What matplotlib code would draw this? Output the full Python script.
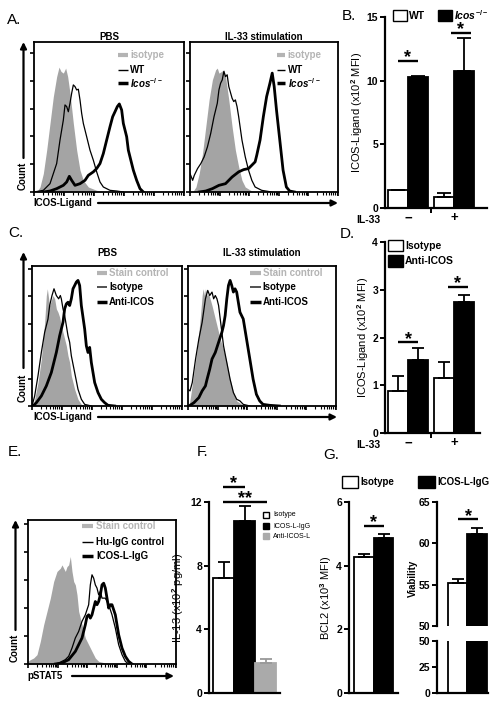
import matplotlib
matplotlib.use('Agg')
import matplotlib.pyplot as plt
from matplotlib.patches import Rectangle, FancyArrowPatch
import numpy as np

plt.rcParams['font.family'] = ['Liberation Sans', 'DejaVu Sans']
plt.rcParams['font.weight'] = 'bold'
plt.rcParams['mathtext.fontset'] = 'custom'
plt.rcParams['mathtext.rm'] = 'Liberation Sans:bold'
plt.rcParams['mathtext.it'] = 'Liberation Sans:italic:bold'
plt.rcParams['mathtext.bf'] = 'Liberation Sans:bold'

W, H = 503, 706
GRAY = '#a4a4a4'
LGRAY = '#b4b4b4'

# --- histogram data (channel, % of max count) ---
A_PBS_ISO_X = [8, 18, 28, 38, 48, 58, 68, 75, 81, 88, 95, 101, 108, 118, 128, 138, 148, 163, 188, 218]
A_PBS_ISO_Y = [0, 3.6, 13.3, 30.1, 49.4, 68.7, 83.1, 89.9, 86.8, 85.6, 89.2, 83.1, 71.1, 49.4, 30.1, 15.7, 8.4, 3.6, 1.2, 0]
A_PBS_WT_X = [0, 28, 48, 68, 78, 88, 93, 98, 103, 108, 113, 118, 123, 128, 133, 138, 143, 148, 158, 168, 178, 188, 198, 208, 228, 248, 268]
A_PBS_WT_Y = [0, 1.2, 6.0, 20.5, 37.4, 51.8, 62.7, 61.5, 57.8, 63.9, 71.1, 77.1, 75.9, 73.5, 74.0, 66.3, 56.6, 49.4, 39.8, 30.1, 22.9, 14.5, 7.2, 3.6, 1.2, 0.7, 0]
A_PBS_KO_X = [28, 48, 68, 88, 98, 106, 113, 123, 138, 153, 163, 178, 188, 198, 208, 218, 228, 236, 243, 250, 256, 263, 268, 278, 283, 288, 298, 308, 318, 328]
A_PBS_KO_Y = [0, 0.7, 2.4, 4.8, 7.2, 11.3, 8.4, 4.8, 6.0, 8.4, 12.0, 14.5, 16.9, 20.5, 27.7, 37.4, 47.0, 54.2, 57.8, 61.5, 63.4, 59.0, 49.4, 39.8, 30.1, 25.3, 15.7, 8.4, 2.4, 0]

A_IL_ISO_X = [8, 18, 28, 38, 48, 58, 68, 78, 83, 88, 96, 103, 108, 118, 128, 138, 148, 158, 168, 188, 208]
A_IL_ISO_Y = [0, 3.6, 13.3, 27.7, 47.0, 66.3, 80.7, 88.0, 89.2, 85.6, 86.8, 88.0, 83.1, 66.3, 47.0, 30.1, 18.1, 8.4, 3.6, 0.7, 0]
A_IL_WT_X = [0, 8, 13, 23, 33, 43, 53, 63, 73, 83, 88, 93, 98, 103, 108, 113, 118, 128, 133, 138, 143, 148, 158, 168, 178, 188, 198, 218, 248]
A_IL_WT_Y = [13.3, 8.4, 12.0, 16.9, 20.5, 25.3, 32.5, 42.2, 54.2, 63.9, 73.5, 78.3, 80.7, 86.8, 83.1, 84.4, 75.9, 67.5, 65.1, 66.3, 61.5, 54.2, 37.4, 25.3, 15.7, 8.4, 3.6, 1.2, 0]
A_IL_KO_X = [28, 48, 68, 88, 108, 128, 148, 163, 178, 188, 198, 203, 213, 223, 233, 243, 250, 256, 263, 273, 283, 293, 303, 318]
A_IL_KO_Y = [0, 0.7, 2.4, 4.8, 6.0, 10.8, 14.5, 16.1, 16.9, 19.3, 21.7, 26.5, 37.4, 54.2, 68.7, 78.3, 85.6, 75.9, 59.0, 37.4, 15.7, 3.6, 0.7, 0]

C_PBS_STAIN_X = [3, 8, 18, 28, 38, 43, 46, 50, 53, 58, 63, 68, 73, 78, 83, 88, 98, 103, 108, 113, 118, 128, 138, 148, 168]
C_PBS_STAIN_Y = [0, 4.9, 17.1, 34.2, 61.0, 80.5, 85.4, 78.1, 73.2, 76.9, 80.5, 78.1, 70.8, 68.3, 64.7, 58.6, 48.8, 43.9, 36.6, 31.7, 22.0, 12.2, 4.9, 1.2, 0]
C_PBS_ISO_X = [0, 8, 18, 28, 38, 48, 53, 60, 66, 73, 80, 85, 88, 93, 98, 103, 108, 113, 118, 128, 138, 148, 158, 178]
C_PBS_ISO_Y = [0, 7.3, 22.0, 39.0, 53.7, 63.4, 73.2, 80.5, 85.4, 80.5, 78.1, 80.5, 78.1, 70.8, 65.9, 58.6, 51.2, 46.4, 36.6, 24.4, 12.2, 4.9, 1.2, 0]
C_PBS_ANTI_X = [3, 13, 28, 43, 58, 73, 83, 93, 98, 103, 108, 113, 118, 123, 128, 133, 138, 143, 148, 158, 163, 168, 173, 178, 188, 198, 208, 218, 228, 248]
C_PBS_ANTI_Y = [0, 2.4, 7.3, 14.6, 24.4, 39.0, 51.2, 61.0, 70.8, 74.4, 75.6, 73.2, 78.1, 85.4, 87.8, 90.3, 91.5, 87.8, 73.2, 56.1, 43.9, 39.0, 42.7, 31.7, 17.1, 9.8, 4.9, 2.4, 0.5, 0]

C_IL_STAIN_X = [3, 8, 18, 28, 38, 43, 46, 50, 53, 58, 63, 73, 83, 88, 98, 108, 118, 128, 138, 148, 168, 188]
C_IL_STAIN_Y = [0, 7.3, 24.4, 41.5, 65.9, 80.5, 85.4, 80.5, 85.4, 80.5, 81.7, 73.2, 63.4, 58.6, 48.8, 41.5, 31.7, 19.5, 9.8, 3.7, 0.5, 0]
C_IL_ISO_X = [0, 6, 13, 23, 33, 43, 53, 60, 66, 73, 78, 83, 88, 93, 98, 103, 108, 118, 128, 138, 148, 158, 168, 188]
C_IL_ISO_Y = [12.2, 11.0, 17.1, 34.2, 48.8, 61.0, 78.1, 84.2, 80.5, 83.0, 78.1, 80.5, 78.1, 73.2, 63.4, 53.7, 43.9, 31.7, 19.5, 9.8, 4.9, 3.7, 1.2, 0]
C_IL_ANTI_X = [3, 18, 33, 43, 53, 58, 66, 73, 83, 93, 103, 108, 113, 118, 123, 128, 133, 138, 143, 148, 153, 158, 168, 173, 178, 188, 198, 208, 218, 228, 248, 278]
C_IL_ANTI_Y = [0, 2.4, 6.1, 11.0, 14.6, 19.5, 26.8, 34.2, 39.0, 46.4, 53.7, 58.6, 65.9, 78.1, 87.8, 91.5, 87.8, 83.0, 85.4, 83.0, 75.6, 68.3, 63.4, 56.1, 48.8, 34.2, 19.5, 8.5, 3.7, 1.2, 0.5, 0]

E_STAIN_X = [0, 7, 17, 27, 37, 47, 57, 67, 77, 87, 97, 102, 107, 112, 117, 122, 127, 132, 137, 142, 147, 152, 162, 172, 182, 192, 202, 212, 232, 252]
E_STAIN_Y = [1.9, 3.1, 4.3, 6.7, 16.2, 28.1, 37.6, 47.1, 59.0, 66.2, 68.5, 70.9, 68.5, 66.2, 69.7, 70.9, 76.9, 66.2, 59.0, 56.6, 49.5, 37.6, 28.1, 18.6, 13.8, 9.0, 4.3, 1.9, 0.7, 0]
E_HU_X = [82, 92, 102, 112, 122, 132, 142, 152, 162, 172, 182, 187, 192, 197, 202, 207, 212, 217, 222, 232, 242, 252, 262, 272, 282, 292, 302]
E_HU_Y = [0, 0.7, 1.9, 3.1, 5.5, 11.4, 18.6, 23.3, 30.5, 35.2, 42.4, 56.6, 63.8, 61.4, 56.6, 54.3, 49.5, 51.9, 47.1, 47.1, 42.4, 35.2, 25.7, 13.8, 6.7, 1.9, 0]
E_ICOSL_X = [82, 102, 122, 142, 162, 172, 177, 182, 187, 192, 197, 202, 207, 212, 217, 222, 227, 232, 237, 242, 247, 252, 257, 262, 272, 282, 292, 302, 312]
E_ICOSL_Y = [0, 0.7, 3.1, 9.0, 18.6, 28.1, 34.0, 35.2, 32.8, 35.2, 40.0, 44.7, 42.4, 44.7, 49.5, 56.6, 57.8, 54.3, 47.1, 40.0, 42.4, 42.4, 38.8, 35.2, 20.9, 11.4, 5.5, 1.9, 0]

# --- bar data ---
IL33_GROUPS = ['\u2212', '+']
B_WT = [1.38, 0.86]
B_WT_ERR = [0.05, 0.31]
B_KO = [10.3, 10.78]
B_KO_ERR = [0.1, 2.6]

D_ISO = [0.89, 1.16]
D_ISO_ERR = [0.31, 0.33]
D_ANTI = [1.53, 2.75]
D_ANTI_ERR = [0.26, 0.15]

F_LABELS = ['Isotype', 'ICOS-L-IgG', 'Anti-ICOS-L']
F_VALS = [7.2, 10.8, 1.87]
F_ERR = [1.05, 0.95, 0.25]

G_LABELS = ['Isotype', 'ICOS-L-IgG']
G_BCL2 = [4.27, 4.87]
G_BCL2_ERR = [0.1, 0.13]
G_VIAB = [55.2, 61.1]
G_VIAB_ERR = [0.5, 0.7]

fig = plt.figure(figsize=(W / 100, H / 100), dpi=100)


def rect_px(l, t, r, b):
    return [l / W, 1 - b / H, (r - l) / W, (b - t) / H]


def fx(x):
    return x / W


def fy(y):
    return 1 - y / H


def ftext(x, y, s, **kw):
    fig.text(fx(x), fy(y), s, **kw)


def farrow(x0, y0, x1, y1):
    fig.add_artist(FancyArrowPatch((fx(x0), fy(y0)), (fx(x1), fy(y1)), transform=fig.transFigure,
                                   arrowstyle='-|>', mutation_scale=9, lw=1.6, color='k',
                                   shrinkA=0, shrinkB=0))


def fbox(l, t, r, b, color, edge='k'):
    fig.add_artist(Rectangle((fx(l), fy(b)), (r - l) / W, (b - t) / H, transform=fig.transFigure,
                             facecolor=color, edgecolor=edge, lw=1.0))


def setup_hist(ax, xmax, ytop):
    ax.set_xlim(0, xmax)
    ax.set_ylim(0, ytop)
    for s in ax.spines.values():
        s.set_linewidth(1.3)
    ax.set_yticks(np.arange(0, 101, 20))
    ax.set_yticklabels([])
    dec = xmax / 5
    ax.set_xticks([dec * d for d in range(6)])
    ax.set_xticks([dec * (d + np.log10(k)) for d in range(5) for k in range(2, 10)], minor=True)
    ax.set_xticklabels([])
    ax.tick_params(which='major', direction='out', length=3, width=1.2, top=False, right=False)
    ax.tick_params(axis='x', which='minor', direction='out', length=1.8, width=0.8, top=False)
    ax.tick_params(axis='y', which='minor', left=False)


def draw_hist(ax, fx_, fy_, tx, ty, kx, ky):
    ax.fill_between(fx_, fy_, color=GRAY, lw=0)
    ax.plot(tx, ty, color='k', lw=0.9)
    ax.plot(kx, ky, color='k', lw=2.0)


def hist_legend(ax, x0, x1, xt, ys, labels, colors, widths, tcolors):
    for y, lab, c, w, tc in zip(ys, labels, colors, widths, tcolors):
        ax.plot([x0, x1], [y, y], transform=ax.transAxes, color=c, lw=w, solid_capstyle='butt')
        ax.text(xt, y, lab, transform=ax.transAxes, color=tc, va='center', ha='left', fontsize=7)


def style_bar_axes(ax):
    for s in ['top', 'right']:
        ax.spines[s].set_visible(False)
    for s in ['left', 'bottom']:
        ax.spines[s].set_linewidth(1.6)
    ax.tick_params(direction='out', length=3.5, width=1.4, labelsize=7.5, pad=1.5)


def sig(ax, x0, x1, y, stars, dy=-1.0):
    ax.plot([x0, x1], [y, y], color='k', lw=1.7, clip_on=False, solid_capstyle='butt')
    ax.annotate(stars, xy=((x0 + x1) / 2, y), xytext=(0, dy), textcoords='offset points',
                ha='center', va='baseline', fontsize=13, annotation_clip=False)


def bars(ax, x, vals, err, color, width, edge='k', ecol='k', cap=4.3):
    ax.bar(x, vals, width=width, color=color, edgecolor=edge, linewidth=1.3, zorder=2)
    ax.errorbar(x, vals, yerr=[np.zeros(len(vals)), err], fmt='none', ecolor=ecol,
                elinewidth=1.3, capsize=cap, capthick=1.3, zorder=3)


# ---------------- A ----------------
axA1 = fig.add_axes(rect_px(34, 42, 184, 192))
setup_hist(axA1, 450, 108)
draw_hist(axA1, A_PBS_ISO_X, A_PBS_ISO_Y, A_PBS_WT_X, A_PBS_WT_Y, A_PBS_KO_X, A_PBS_KO_Y)
axA2 = fig.add_axes(rect_px(190, 42, 338, 192))
setup_hist(axA2, 450, 108)
draw_hist(axA2, A_IL_ISO_X, A_IL_ISO_Y, A_IL_WT_X, A_IL_WT_Y, A_IL_KO_X, A_IL_KO_Y)
a_labels = ['isotype', 'WT', r'$\mathit{Icos}^{\mathit{-/-}}$']
for ax, x0, x1, xt in [(axA1, 0.56, 0.627, 0.64), (axA2, 0.59, 0.645, 0.66)]:
    hist_legend(ax, x0, x1, xt, [0.913, 0.815, 0.727], a_labels,
                [LGRAY, 'k', 'k'], [3, 1, 2.5], [LGRAY, 'k', 'k'])
ftext(109, 37, 'PBS', ha='center', va='center', fontsize=7)
ftext(264, 37, 'IL-33 stimulation', ha='center', va='center', fontsize=7)
ftext(23, 176, 'Count', rotation=90, ha='center', va='center', fontsize=7)
farrow(23.5, 158, 23.5, 42)
ftext(33, 203, 'ICOS-Ligand', ha='left', va='center', fontsize=7)
farrow(98, 203, 338, 203)

# ---------------- C ----------------
axC1 = fig.add_axes(rect_px(32, 266, 182, 406))
setup_hist(axC1, 450, 102)
draw_hist(axC1, C_PBS_STAIN_X, C_PBS_STAIN_Y, C_PBS_ISO_X, C_PBS_ISO_Y, C_PBS_ANTI_X, C_PBS_ANTI_Y)
axC2 = fig.add_axes(rect_px(188, 266, 336, 406))
setup_hist(axC2, 450, 102)
draw_hist(axC2, C_IL_STAIN_X, C_IL_STAIN_Y, C_IL_ISO_X, C_IL_ISO_Y, C_IL_ANTI_X, C_IL_ANTI_Y)
c_labels = ['Stain control', 'Isotype', 'Anti-ICOS']
for ax, x0, x1, xt in [(axC1, 0.433, 0.5, 0.515), (axC2, 0.42, 0.49, 0.505)]:
    hist_legend(ax, x0, x1, xt, [0.95, 0.85, 0.74], c_labels,
                [LGRAY, '#333333', 'k'], [3, 1.2, 2.5], [LGRAY, 'k', 'k'])
ftext(107, 253, 'PBS', ha='center', va='center', fontsize=7)
ftext(262, 253, 'IL-33 stimulation', ha='center', va='center', fontsize=7)
ftext(23, 388, 'Count', rotation=90, ha='center', va='center', fontsize=7)
farrow(23.5, 368, 23.5, 252)
ftext(33, 417, 'ICOS-Ligand', ha='left', va='center', fontsize=7)
farrow(98, 417, 337, 417)

# ---------------- E ----------------
axE = fig.add_axes(rect_px(28, 520, 176, 664))
setup_hist(axE, 444, 103)
draw_hist(axE, E_STAIN_X, E_STAIN_Y, E_HU_X, E_HU_Y, E_ICOSL_X, E_ICOSL_Y)
hist_legend(axE, 0.365, 0.44, 0.46, [0.958, 0.847, 0.75],
            ['Stain control', 'Hu-IgG control', 'ICOS-L-IgG'],
            [LGRAY, 'k', 'k'], [3, 1, 2.5], [LGRAY, 'k', 'k'])
ftext(15, 648, 'Count', rotation=90, ha='center', va='center', fontsize=7)
farrow(15.5, 630, 15.5, 520)
ftext(27, 676, 'pSTAT5', ha='left', va='center', fontsize=7)
farrow(72, 676, 174, 676)

# ---------------- B ----------------
grp = np.arange(len(IL33_GROUPS))
axB = fig.add_axes(rect_px(385, 17, 487, 208))
style_bar_axes(axB)
bars(axB, grp - 0.22, B_WT, B_WT_ERR, 'white', 0.44, cap=5)
bars(axB, grp + 0.22, B_KO, B_KO_ERR, 'black', 0.44, cap=5)
axB.set_xlim(-0.5, 1.72)
axB.set_ylim(0, 15)
axB.set_yticks([0, 5, 10, 15])
axB.set_ylabel(r'ICOS-Ligand (x10$^2$ MFI)', fontsize=8, labelpad=1)
sig(axB, -0.22, 0.22, 11.55, '*')
sig(axB, 0.93, 1.37, 13.75, '*')

axD = fig.add_axes(rect_px(385, 242, 480, 433))
style_bar_axes(axD)
bars(axD, grp - 0.22, D_ISO, D_ISO_ERR, 'white', 0.44)
bars(axD, grp + 0.22, D_ANTI, D_ANTI_ERR, 'black', 0.44)
axD.set_xlim(-0.5, 1.565)
axD.set_ylim(0, 4)
axD.set_yticks([0, 1, 2, 3, 4])
axD.set_ylabel(r'ICOS-Ligand (x10$^2$ MFI)', fontsize=8, labelpad=1)
sig(axD, -0.22, 0.22, 1.9, '*')
sig(axD, 0.87, 1.3, 3.06, '*')

for ax, ylab in [(axB, 220), (axD, 445)]:
    ax.set_xticks(grp, IL33_GROUPS, fontsize=9.5)
    ax.set_xticks([0.5], minor=True)
    ax.tick_params(axis='x', which='major', length=0, pad=3)
    ax.tick_params(axis='x', which='minor', length=3.5, width=1.4)
    ftext(380, ylab, 'IL-33', ha='right', va='center', fontsize=7.5)

fbox(393, 10, 407, 21, 'white')
fbox(438, 10, 452, 21, 'black')
ftext(409, 16, 'WT', ha='left', va='center', fontsize=7.5)
ftext(454, 15, r'$\mathit{Icos}^{\mathit{-/-}}$', ha='left', va='center', fontsize=7.5)

fbox(388, 240, 403, 251, 'white')
fbox(388, 255, 403, 267, 'black')
ftext(405, 246, 'Isotype', ha='left', va='center', fontsize=7.5)
ftext(405, 261, 'Anti-ICOS', ha='left', va='center', fontsize=7.5)

# ---------------- F ----------------
axF = fig.add_axes(rect_px(209, 502, 280, 693))
style_bar_axes(axF)
fpos = np.arange(len(F_LABELS))
bars(axF, fpos[:2], F_VALS[:2], F_ERR[:2], ['white', 'black'], 1.0)
bars(axF, fpos[2:], F_VALS[2:], F_ERR[2:], '#aaaaaa', 1.0, edge='#aaaaaa', ecol='#999999')
axF.set_xlim(-0.71, 2.67)
axF.set_ylim(0, 12)
axF.set_yticks([0, 4, 8, 12])
axF.set_xticks([])
axF.set_ylabel(r'IL-13 (x10$^2$ pg/ml)', fontsize=8, labelpad=3)
sig(axF, -0.05, 1.0, 12.94, '*')
sig(axF, -0.05, 2.05, 12.0, '**')
for lab, col, yc in zip(F_LABELS, ['white', 'black', '#aaaaaa'], [515, 526, 536]):
    fbox(263, yc - 3, 269, yc + 3, col, edge='k' if col != '#aaaaaa' else '#aaaaaa')
    ftext(273, yc, lab, ha='left', va='center', fontsize=5, fontweight='normal')

# ---------------- G ----------------
axG1 = fig.add_axes(rect_px(349, 502, 398, 693))
style_bar_axes(axG1)
gpos = np.arange(len(G_LABELS))
bars(axG1, gpos, G_BCL2, G_BCL2_ERR, ['white', 'black'], 1.0)
axG1.set_xlim(-0.77, 1.74)
axG1.set_ylim(0, 6)
axG1.set_yticks([0, 2, 4, 6])
axG1.set_xticks([])
axG1.set_ylabel(r'BCL2 (x10$^3$ MFI)', fontsize=8, labelpad=2)
sig(axG1, 0, 1, 5.24, '*')

axG2t = fig.add_axes(rect_px(437, 502, 488, 626))
axG2b = fig.add_axes(rect_px(437, 641, 488, 693))
for ax in [axG2t, axG2b]:
    style_bar_axes(ax)
    bars(ax, gpos, G_VIAB, G_VIAB_ERR, ['white', 'black'], 1.0)
    ax.set_xlim(-1.05, 1.56)
    ax.set_xticks([])
axG2t.spines['bottom'].set_visible(False)
axG2t.set_ylim(50, 65)
axG2t.set_yticks([50, 55, 60, 65])
axG2b.set_ylim(0, 50)
axG2b.set_yticks([0, 25, 50])
sig(axG2t, 0.05, 1.05, 62.9, '*')
ftext(413, 578, 'Viability', rotation=90, ha='center', va='center', fontsize=7)

fbox(342, 476, 358, 488, 'white')
fbox(418, 476, 435, 488, 'black')
ftext(360, 482, G_LABELS[0], ha='left', va='center', fontsize=7)
ftext(437, 482, G_LABELS[1], ha='left', va='center', fontsize=7)

# ---------------- panel letters ----------------
for lt, x, y in [('A.', 7, 20), ('B.', 342, 16), ('C.', 8, 233), ('D.', 340, 234),
                 ('E.', 8, 452), ('F.', 197, 452), ('G.', 323, 455)]:
    ftext(x, y, lt, ha='left', va='center', fontsize=11, fontweight='normal')

fig.savefig('out.png', dpi=100, facecolor='white')
